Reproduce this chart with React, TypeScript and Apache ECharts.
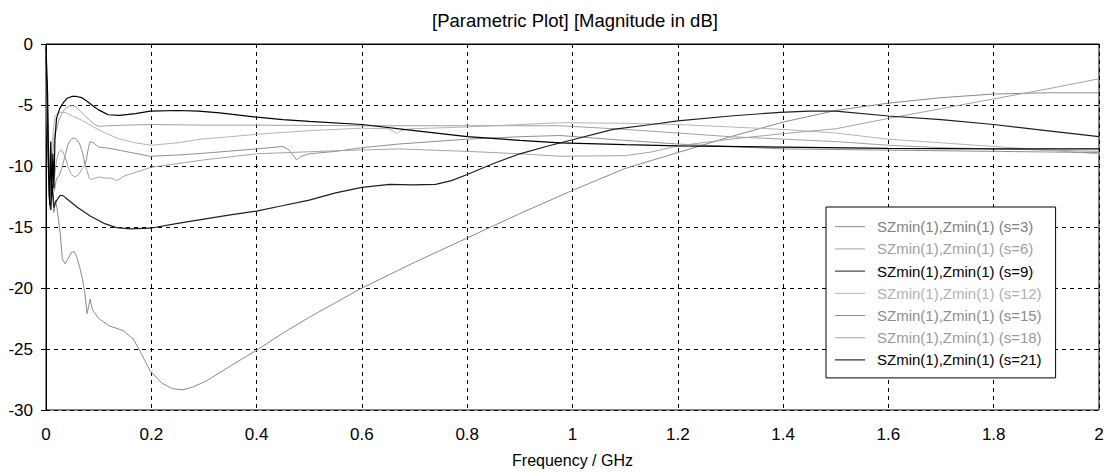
import React, { useEffect, useRef } from "react";
import * as echarts from "echarts";

const FONT = "Liberation Sans";

const titleText = "[Parametric Plot] [Magnitude in dB]";
const xAxisName = "Frequency / GHz";

const seriesNames = [
  "SZmin(1),Zmin(1) (s=3)",
  "SZmin(1),Zmin(1) (s=6)",
  "SZmin(1),Zmin(1) (s=9)",
  "SZmin(1),Zmin(1) (s=12)",
  "SZmin(1),Zmin(1) (s=15)",
  "SZmin(1),Zmin(1) (s=18)",
  "SZmin(1),Zmin(1) (s=21)",
];

const lineColors = ["#8a8a8a", "#a0a0a0", "#1e1e1e", "#b4b4b4", "#909090", "#a4a4a4", "#000000"];
const legendTextColors = ["#808080", "#a0a0a0", "#000000", "#b0b0b0", "#8c8c8c", "#9a9a9a", "#000000"];

// s=3
const s3: number[][] = [
  [0, -0.5], [0.003, -5], [0.006, -11], [0.009, -13.6], [0.012, -12], [0.015, -13.8], [0.018, -12.8],
  [0.021, -13.5], [0.024, -14.5], [0.027, -15.5], [0.031, -17.6], [0.036, -18.0], [0.042, -17.6],
  [0.048, -17.1], [0.053, -17.0], [0.058, -17.4], [0.064, -18.3], [0.069, -19.2], [0.074, -20.5],
  [0.078, -22.1], [0.081, -21.5], [0.084, -20.9], [0.087, -21.6], [0.09, -21.9], [0.1, -22.5],
  [0.12, -23.1], [0.147, -23.5], [0.166, -24.2], [0.18, -25.3], [0.198, -26.8], [0.22, -27.8],
  [0.24, -28.25], [0.26, -28.35], [0.28, -28.1], [0.305, -27.6], [0.35, -26.4], [0.4, -25.1],
  [0.45, -23.7], [0.5, -22.4], [0.6, -20.0], [0.7, -17.9], [0.8, -15.9], [0.9, -13.9], [1.0, -12.0],
  [1.1, -10.2], [1.2, -8.9], [1.3, -7.6], [1.4, -6.4], [1.5, -5.45], [1.6, -4.85], [1.7, -4.4],
  [1.8, -4.1], [1.9, -4.0], [2.0, -4.0],
];

// s=6
const s6: number[][] = [
  [0, -1], [0.004, -8], [0.008, -12.5], [0.012, -9.5], [0.016, -7.5], [0.02, -7.0], [0.025, -6.2],
  [0.03, -5.7], [0.036, -5.3], [0.043, -5.1], [0.05, -5.05], [0.057, -5.15], [0.065, -5.5],
  [0.075, -5.9], [0.084, -6.3], [0.092, -6.6], [0.1, -6.75], [0.12, -6.7], [0.15, -6.65], [0.2, -6.6],
  [0.3, -6.65], [0.4, -6.65], [0.6, -6.7], [0.8, -6.7], [0.976, -6.7], [1.1, -7.0], [1.2, -7.3],
  [1.3, -7.6], [1.4, -7.8], [1.5, -8.0], [1.6, -8.3], [1.7, -8.5], [1.8, -8.6], [1.9, -8.7], [2.0, -8.8],
];

// s=9
const s9: number[][] = [
  [0, -1], [0.003, -7], [0.006, -12.5], [0.009, -13.6], [0.012, -11.5], [0.015, -13.4], [0.018, -13.0],
  [0.022, -12.7], [0.027, -12.4], [0.033, -12.45], [0.04, -12.7], [0.06, -13.4], [0.084, -14.1],
  [0.11, -14.7], [0.134, -15.05], [0.16, -15.15], [0.198, -15.1], [0.25, -14.7], [0.3, -14.35],
  [0.35, -14.0], [0.4, -13.7], [0.444, -13.3], [0.5, -12.8], [0.55, -12.2], [0.6, -11.75],
  [0.653, -11.5], [0.697, -11.55], [0.74, -11.5], [0.77, -11.2], [0.8, -10.7], [0.85, -9.8],
  [0.9, -9.0], [0.95, -8.4], [1.0, -7.85], [1.077, -7.0], [1.15, -6.6], [1.2, -6.3], [1.3, -5.9],
  [1.394, -5.6], [1.45, -5.5], [1.5, -5.5], [1.6, -5.9], [1.7, -6.2], [1.8, -6.6], [1.9, -7.1], [2.0, -7.6],
];

// s=12
const s12: number[][] = [
  [0, -1.5], [0.004, -7], [0.008, -11.5], [0.012, -8], [0.017, -5.9], [0.022, -5.7], [0.027, -5.6],
  [0.039, -5.65], [0.05, -5.9], [0.07, -6.3], [0.09, -6.8], [0.115, -7.35], [0.14, -7.8], [0.17, -8.1],
  [0.2, -8.3], [0.25, -8.1], [0.293, -7.8], [0.35, -7.6], [0.4, -7.4], [0.5, -7.1], [0.6, -6.9],
  [0.65, -6.95], [0.66, -7.15], [0.667, -7.35], [0.674, -7.1], [0.69, -6.95], [0.73, -6.9], [0.8, -6.8],
  [0.9, -6.6], [0.976, -6.45], [1.1, -6.5], [1.2, -6.6], [1.3, -6.8], [1.4, -7.0], [1.5, -7.3],
  [1.6, -7.8], [1.7, -8.1], [1.8, -8.4], [1.9, -8.7], [2.0, -9.0],
];

// s=15
const s15: number[][] = [
  [0, -2], [0.004, -9], [0.008, -13], [0.012, -10.5], [0.016, -12], [0.02, -11], [0.025, -10.8],
  [0.03, -10.2], [0.036, -9.2], [0.042, -8.2], [0.048, -7.8], [0.053, -7.7], [0.058, -7.8],
  [0.064, -8.2], [0.07, -9.0], [0.074, -9.9], [0.077, -9.4], [0.081, -8.4], [0.084, -8.0], [0.09, -8.1],
  [0.1, -8.45], [0.12, -8.55], [0.15, -8.8], [0.198, -9.2], [0.25, -9.1], [0.3, -8.95], [0.4, -8.6],
  [0.45, -8.4], [0.462, -8.7], [0.476, -9.5], [0.485, -9.2], [0.5, -9.0], [0.55, -8.8], [0.6, -8.5],
  [0.67, -8.2], [0.8, -7.8], [0.9, -7.6], [0.976, -7.5], [1.1, -7.9], [1.2, -8.2], [1.3, -8.4],
  [1.4, -8.6], [1.6, -8.7], [1.8, -8.8], [2.0, -8.9],
];

// s=18
const s18: number[][] = [
  [0, -3], [0.004, -10], [0.008, -13.5], [0.012, -9], [0.016, -11], [0.02, -9.5], [0.025, -8.8],
  [0.03, -8.7], [0.036, -9.2], [0.042, -10.1], [0.048, -10.7], [0.055, -10.9], [0.062, -10.7],
  [0.068, -10.3], [0.074, -9.9], [0.078, -10.4], [0.082, -11.0], [0.086, -11.1], [0.1, -10.9],
  [0.115, -11.0], [0.125, -11.0], [0.134, -11.2], [0.15, -10.8], [0.2, -10.1], [0.3, -9.5], [0.4, -9.0],
  [0.55, -8.75], [0.67, -8.6], [0.8, -8.8], [0.9, -9.0], [0.976, -9.2], [1.1, -9.15], [1.15, -8.85],
  [1.2, -8.35], [1.3, -7.8], [1.4, -7.35], [1.5, -6.95], [1.6, -6.1], [1.7, -5.3], [1.8, -4.5],
  [1.9, -3.7], [2.0, -2.85],
];

// s=21
const s21: number[][] = [
  [0, -0.2], [0.003, -4], [0.005, -10], [0.007, -13.2], [0.009, -8], [0.011, -12.5], [0.013, -9],
  [0.015, -11.8], [0.017, -7.8], [0.02, -6.1], [0.026, -5.3], [0.033, -4.8], [0.04, -4.45],
  [0.049, -4.3], [0.058, -4.3], [0.068, -4.4], [0.078, -4.7], [0.09, -5.1], [0.1, -5.4], [0.118, -5.8],
  [0.14, -5.85], [0.17, -5.7], [0.198, -5.5], [0.25, -5.45], [0.29, -5.5], [0.33, -5.65], [0.4, -6.0],
  [0.45, -6.2], [0.5, -6.35], [0.6, -6.6], [0.7, -7.1], [0.8, -7.6], [0.9, -7.9], [0.976, -8.1],
  [1.1, -8.25], [1.2, -8.35], [1.4, -8.45], [1.6, -8.55], [1.8, -8.6], [2.0, -8.6],
];

const seriesData = [s3, s6, s9, s12, s15, s18, s21];

export default function App() {
  const ref = useRef<HTMLDivElement>(null);

  useEffect(() => {
    if (!ref.current) return;
    const chart = echarts.init(ref.current, undefined, { renderer: "svg" });
    const gridLine = { show: true, lineStyle: { color: "#000", type: [4, 4] as any, width: 1 } };
    chart.setOption({
      animation: false,
      backgroundColor: "#fff",
      textStyle: { fontFamily: FONT },
      title: {
        text: titleText,
        left: 432,
        top: 11,
        padding: 0,
        textStyle: { fontFamily: FONT, fontSize: 18.5, fontWeight: "normal", color: "#000" },
      },
      grid: {
        left: 46,
        right: 12,
        top: 44,
        bottom: 61,
        show: true,
        borderColor: "#000",
        borderWidth: 1,
        backgroundColor: "#fff",
      },
      legend: {
        orient: "vertical",
        left: 826,
        top: 207,
        padding: [10.7, 14, 9, 9],
        icon: "rect",
        itemWidth: 30,
        itemHeight: 1,
        itemGap: 4.2,
        backgroundColor: "#fff",
        borderColor: "#000",
        borderWidth: 1,
        selectedMode: false,
        textStyle: { fontFamily: FONT, fontSize: 15, lineHeight: 18, padding: [0, 0, 0, 7] },
        data: seriesNames.map((n, i) => ({
          name: n,
          textStyle: { color: legendTextColors[i] },
          itemStyle: { color: lineColors[i] },
        })),
      },
      xAxis: {
        type: "value",
        min: 0,
        max: 2,
        interval: 0.2,
        name: xAxisName,
        nameLocation: "middle",
        nameGap: 42,
        nameTextStyle: { fontFamily: FONT, fontSize: 16, color: "#000" },
        axisLine: { show: true, lineStyle: { color: "#000", width: 1 } },
        axisTick: { show: true, length: 4, lineStyle: { color: "#000" } },
        axisLabel: {
          margin: 16,
          fontFamily: FONT,
          fontSize: 17,
          color: "#000",
          formatter: (v: number) => String(parseFloat(v.toFixed(1))),
        },
        splitLine: gridLine,
      },
      yAxis: {
        type: "value",
        min: -30,
        max: 0,
        interval: 5,
        axisLine: { show: true, lineStyle: { color: "#000", width: 1 } },
        axisTick: { show: true, length: 5, lineStyle: { color: "#000" } },
        axisLabel: { margin: 13, fontFamily: FONT, fontSize: 17, color: "#000" },
        splitLine: gridLine,
      },
      series: seriesData.map((d, i) => ({
        name: seriesNames[i],
        type: "line",
        data: d,
        symbol: "none",
        smooth: false,
        z: i === 2 || i === 6 ? 5 : 3,
        lineStyle: { color: lineColors[i], width: i === 2 || i === 6 ? 1.2 : 1 },
        itemStyle: { color: lineColors[i] },
      })),
    });
    return () => chart.dispose();
  }, []);

  return (
    <div
      ref={ref}
      style={{ position: "fixed", left: 0, top: 0, width: 1111, height: 473, background: "#fff" }}
    />
  );
}
